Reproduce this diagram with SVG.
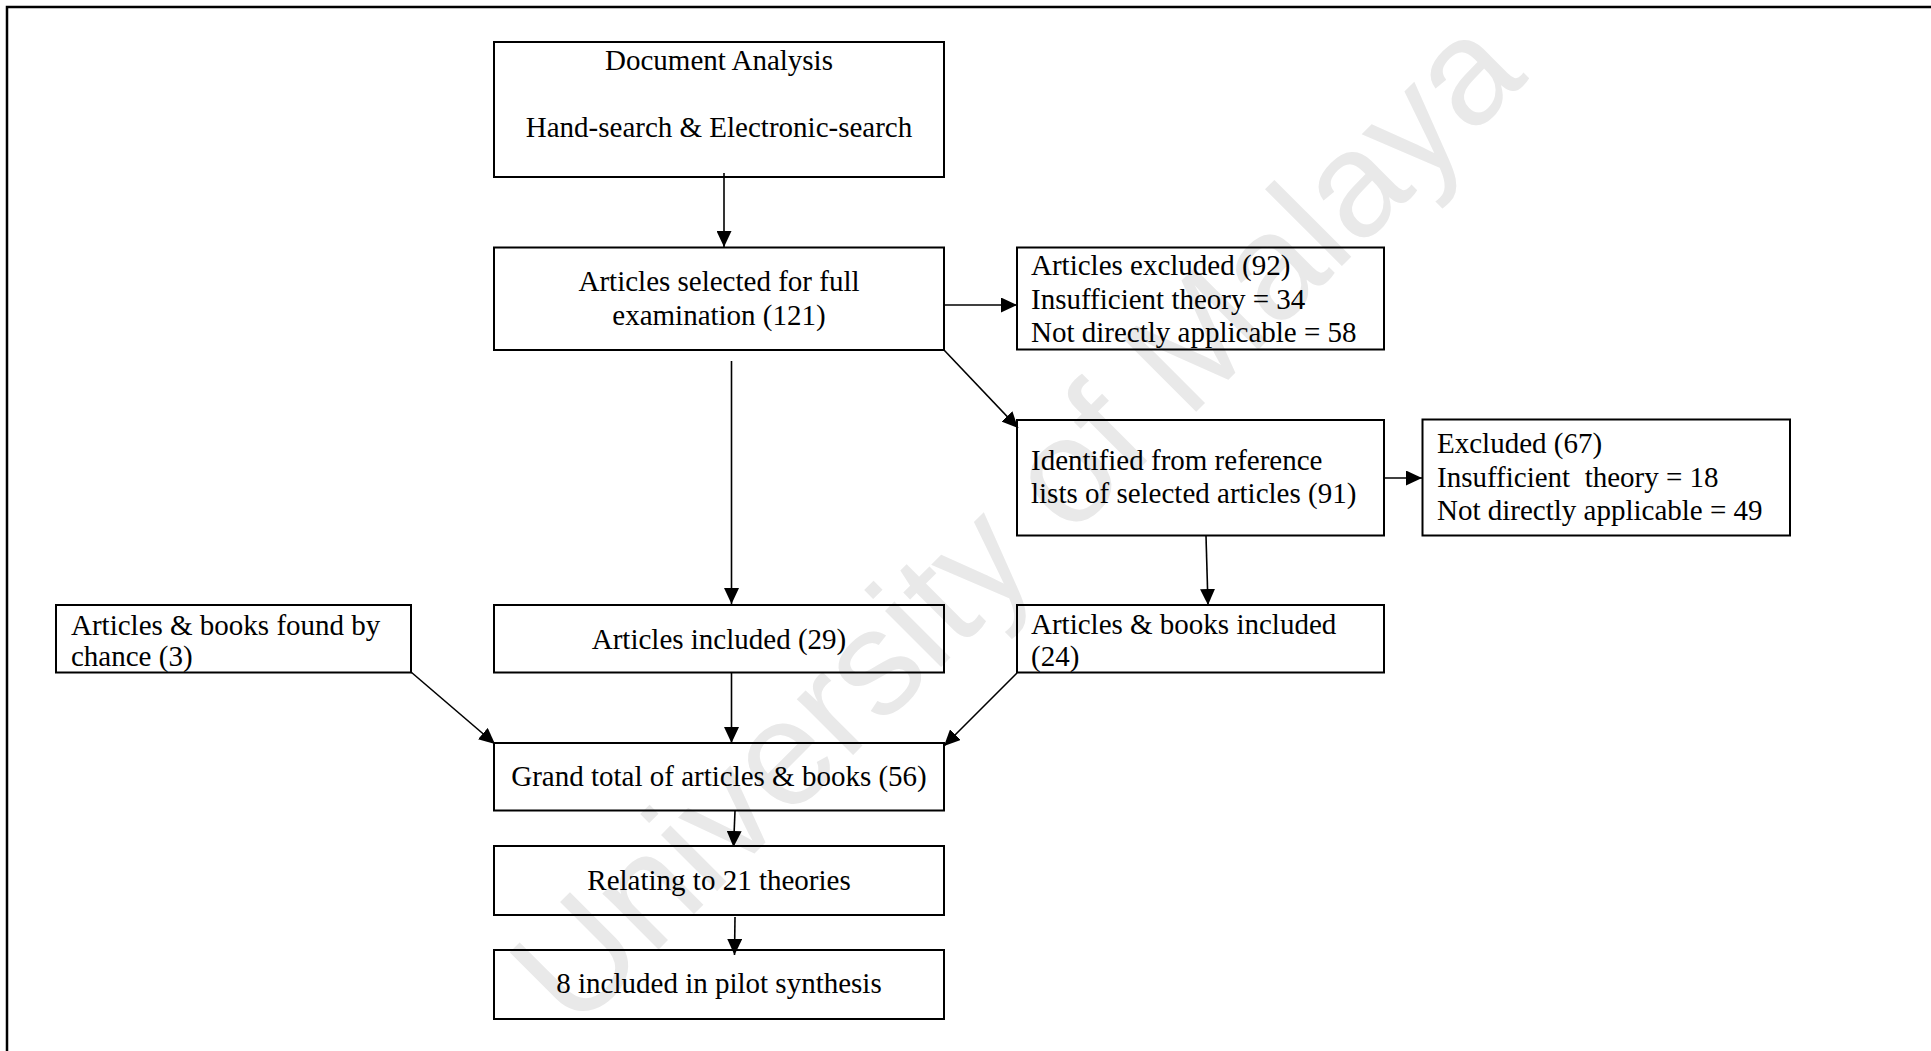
<svg xmlns="http://www.w3.org/2000/svg" width="1931" height="1051" viewBox="0 0 1931 1051">
  <style>
    .box { fill: none; stroke: #000; stroke-width: 2; }
    .lbl { font-family: "Liberation Serif", "Times New Roman", serif; font-size: 29px; fill: #000; }
    .mid { text-anchor: middle; }
    .edge { fill: none; stroke: #000; stroke-width: 1.6; marker-end: url(#arrow); }
    .wm { font-family: "Liberation Sans", Arial, sans-serif; font-size: 150px; fill: #e9e9e9; }
  </style>
  <defs>
    <marker id="arrow" markerUnits="userSpaceOnUse" viewBox="0 0 16 15" refX="16" refY="7.5" markerWidth="16" markerHeight="15" orient="auto">
      <path d="M0,0 L16,7.5 L0,15 Z" fill="#000"/>
    </marker>
  </defs>

  <rect width="1931" height="1051" fill="#fff"/>

  <!-- background watermark -->
  <text class="wm" x="1052" y="556" text-anchor="middle" transform="rotate(-45 1052 556)">University of Malaya</text>

  <!-- page frame -->
  <path d="M7,1051 V7 H1931" fill="none" stroke="#000" stroke-width="2.5"/>

  <g id="connectors">
    <path class="edge" d="M724,173 L724,247"/>
    <path class="edge" d="M944,305 L1017,305"/>
    <path class="edge" d="M944,350 L1018,428"/>
    <path class="edge" d="M1384,478 L1422,478"/>
    <path class="edge" d="M731.5,361 L731.5,604"/>
    <path class="edge" d="M1206,536 L1208,605"/>
    <path class="edge" d="M411,672 L495,744"/>
    <path class="edge" d="M731.5,673 L731.5,743"/>
    <path class="edge" d="M1017,673 L944,746"/>
    <path class="edge" d="M735,811 L733.5,847"/>
    <path class="edge" d="M735,917 L734.5,955"/>
  </g>

  <g id="document-analysis">
    <rect class="box" x="494" y="42" width="450" height="135"/>
    <text class="lbl mid" x="719" y="70">Document Analysis</text>
    <text class="lbl mid" x="719" y="137">Hand-search &amp; Electronic-search</text>
  </g>

  <g id="articles-selected">
    <rect class="box" x="494" y="247.5" width="450" height="102.5"/>
    <text class="lbl mid" x="719" y="291">Articles selected for full</text>
    <text class="lbl mid" x="719" y="325">examination (121)</text>
  </g>

  <g id="articles-excluded">
    <rect class="box" x="1017" y="247.5" width="367" height="102"/>
    <text class="lbl" x="1031" y="275">Articles excluded (92)</text>
    <text class="lbl" x="1031" y="309">Insufficient theory = 34</text>
    <text class="lbl" x="1031" y="342">Not directly applicable = 58</text>
  </g>

  <g id="reference-lists">
    <rect class="box" x="1017" y="420" width="367" height="115.5"/>
    <text class="lbl" x="1031" y="470">Identified from reference</text>
    <text class="lbl" x="1031" y="503">lists of selected articles (91)</text>
  </g>

  <g id="excluded-67">
    <rect class="box" x="1422.5" y="419.5" width="367.5" height="116"/>
    <text class="lbl" x="1437" y="453">Excluded (67)</text>
    <text class="lbl" x="1437" y="487" xml:space="preserve">Insufficient  theory = 18</text>
    <text class="lbl" x="1437" y="520">Not directly applicable = 49</text>
  </g>

  <g id="found-by-chance">
    <rect class="box" x="56" y="605" width="355" height="67.5"/>
    <text class="lbl" x="71" y="635">Articles &amp; books found by</text>
    <text class="lbl" x="71" y="666">chance (3)</text>
  </g>

  <g id="articles-included">
    <rect class="box" x="494" y="605" width="450" height="67.5"/>
    <text class="lbl mid" x="719" y="649">Articles included (29)</text>
  </g>

  <g id="articles-books-included">
    <rect class="box" x="1017" y="605" width="367" height="67.5"/>
    <text class="lbl" x="1031" y="634">Articles &amp; books included</text>
    <text class="lbl" x="1031" y="666">(24)</text>
  </g>

  <g id="grand-total">
    <rect class="box" x="494" y="743" width="450" height="67.5"/>
    <text class="lbl mid" x="719" y="786">Grand total of articles &amp; books (56)</text>
  </g>

  <g id="theories">
    <rect class="box" x="494" y="846" width="450" height="69"/>
    <text class="lbl mid" x="719" y="890">Relating to 21 theories</text>
  </g>

  <g id="pilot-synthesis">
    <rect class="box" x="494" y="950" width="450" height="69"/>
    <text class="lbl mid" x="719" y="993">8 included in pilot synthesis</text>
  </g>
</svg>
